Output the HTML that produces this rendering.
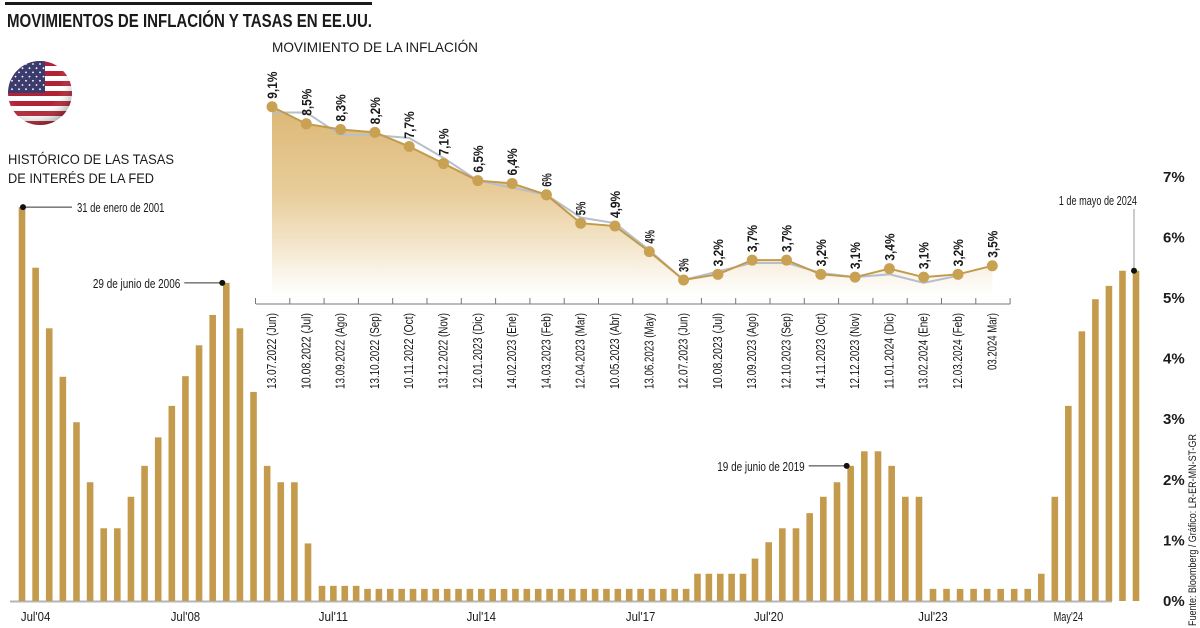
<!DOCTYPE html>
<html><head><meta charset="utf-8"><style>
html,body{margin:0;padding:0;background:#fff;}
svg{display:block;font-family:"Liberation Sans Narrow","Liberation Sans",sans-serif;}
</style></head><body>
<svg id="chart" width="1200" height="628" viewBox="0 0 1200 628" xmlns="http://www.w3.org/2000/svg">
<defs>
<linearGradient id="areaGrad" x1="0" y1="0" x2="0" y2="1">
<stop offset="0" stop-color="#dcb877"/><stop offset="0.45" stop-color="#e8cc98"/><stop offset="1" stop-color="#ffffff"/>
</linearGradient>
<clipPath id="flagClip"><circle cx="40" cy="93" r="32"/></clipPath>
<radialGradient id="flagShade" cx="0.4" cy="0.35" r="0.7"><stop offset="0.6" stop-color="#fff" stop-opacity="0"/><stop offset="1" stop-color="#000" stop-opacity="0.35"/></radialGradient>
</defs>
<rect x="5" y="2" width="367" height="3" fill="#1a1a1a"/>
<text x="7" y="27" font-size="18" font-weight="bold" fill="#1a1a1a" textLength="365" lengthAdjust="spacingAndGlyphs">MOVIMIENTOS DE INFLACIÓN Y TASAS EN EE.UU.</text>
<text x="272" y="52" font-size="14" fill="#1a1a1a" textLength="206" lengthAdjust="spacingAndGlyphs">MOVIMIENTO DE LA INFLACIÓN</text>
<text x="8" y="164" font-size="14" fill="#1a1a1a" textLength="166" lengthAdjust="spacingAndGlyphs">HISTÓRICO DE LAS TASAS</text>
<text x="8" y="183" font-size="14" fill="#1a1a1a" textLength="146" lengthAdjust="spacingAndGlyphs">DE INTERÉS DE LA FED</text>
<g clip-path="url(#flagClip)">
<rect x="8" y="61" width="64" height="64" fill="#fff"/>
<rect x="8" y="61" width="64" height="5" fill="#b22234"/><rect x="8" y="71" width="64" height="5" fill="#b22234"/>
<rect x="8" y="81" width="64" height="5" fill="#b22234"/><rect x="8" y="91" width="64" height="5" fill="#b22234"/>
<rect x="8" y="101" width="64" height="5" fill="#b22234"/><rect x="8" y="111" width="64" height="5" fill="#b22234"/>
<rect x="8" y="121" width="64" height="5" fill="#b22234"/>
<rect x="8" y="61" width="37" height="32" fill="#3c3b6e"/>
<circle cx="40" cy="93" r="32" fill="url(#flagShade)"/>
</g>
<g id="stars"></g>
<g id="inset"></g>
<g id="bars"></g>
<text transform="translate(1196,626) rotate(-90)" font-size="11" fill="#1a1a1a" textLength="192" lengthAdjust="spacingAndGlyphs">Fuente: Bloomberg / Gráfico: LR-ER-MN-ST-GR</text>
</svg>
<script>
// ---------- Inflation inset data ----------
const inflDates = ["13.07.2022 (Jun)","10.08.2022 (Jul)","13.09.2022 (Ago)","13.10.2022 (Sep)","10.11.2022 (Oct)","13.12.2022 (Nov)","12.01.2023 (Dic)","14.02.2023 (Ene)","14.03.2023 (Feb)","12.04.2023 (Mar)","10.05.2023 (Abr)","13.06.2023 (May)","12.07.2023 (Jun)","10.08.2023 (Jul)","13.09.2023 (Ago)","12.10.2023 (Sep)","14.11.2023 (Oct)","12.12.2023 (Nov)","11.01.2024 (Dic)","13.02.2024 (Ene)","12.03.2024 (Feb)","03.2024 Mar)"];
const inflValues = [9.1,8.5,8.3,8.2,7.7,7.1,6.5,6.4,6,5,4.9,4,3,3.2,3.7,3.7,3.2,3.1,3.4,3.1,3.2,3.5];
const inflLabels = ["9,1%","8,5%","8,3%","8,2%","7,7%","7,1%","6,5%","6,4%","6%","5%","4,9%","4%","3%","3,2%","3,7%","3,7%","3,2%","3,1%","3,4%","3,1%","3,2%","3,5%"];
const inflSecondary = [8.9,8.9,8.1,8.1,8.0,7.3,6.5,6.25,6.0,5.2,5.0,4.05,3.0,3.3,3.6,3.6,3.25,3.1,3.2,2.9,3.15];

// ---------- Fed rate bars data ----------
const rateValues = [6.5,5.5,4.5,3.7,2.95,1.96,1.2,1.2,1.72,2.23,2.7,3.22,3.71,4.22,4.72,5.25,4.5,3.45,2.23,1.96,1.96,0.95,
0.25,0.25,0.25,0.25,0.2,0.2,0.2,0.2,0.2,0.2,0.2,0.2,0.2,0.2,0.2,0.2,0.2,0.2,0.2,0.2,0.2,0.2,0.2,0.2,0.2,0.2,0.2,0.2,0.2,0.2,0.2,0.2,0.2,0.45,0.45,0.45,0.45,0.45,
0.7,0.97,1.2,1.2,1.45,1.72,1.96,2.23,2.47,2.47,2.23,1.72,1.72,
0.2,0.2,0.2,0.2,0.2,0.2,0.2,0.2,0.45,1.72,3.22,4.45,4.98,5.2,5.45,5.45];
const xTickLabels = ["Jul'04","Jul'08","Jul'11","Jul'14","Jul'17","Jul'20","Jul'23","May'24"];
const xTickIndex = [1,12,23,36,50,61,73,83];
const yTickValues = [0,1,2,3,4,5,6,7];
const yTickLabels = ["0%","1%","2%","3%","4%","5%","6%","7%"];
const annotTexts = ["31 de enero de 2001","29 de junio de 2006","19 de junio de 2019","1 de mayo de 2024"];
const annotIndex = [0,15,67,88];

const NS = "http://www.w3.org/2000/svg";
function mk(tag, attrs, parent, txt){
  const e = document.createElementNS(NS, tag);
  for (const k in attrs) e.setAttribute(k, attrs[k]);
  if (txt !== undefined) e.textContent = txt;
  parent.appendChild(e);
  return e;
}

// stars
const stars = document.getElementById('stars');
for (let r=0;r<7;r++){ for(let c=0;c<5;c++){
  const s = mk('circle',{cx:12+c*7+(r%2)*3.5, cy:64+r*4.2, r:0.9, fill:'#fff'}, stars);
  
  
}}

// ---------- Inset scales ----------
const ix = i => 272 + i*34.3;
const iy = v => 280 - (v-3)*28.4;
const inset = document.getElementById('inset');
const areaBottom = 296;
let dArea = "M"+ix(0)+","+areaBottom;
inflValues.forEach((v,i)=>{ dArea += " L"+ix(i)+","+iy(v); });
dArea += " L"+ix(inflValues.length-1)+","+areaBottom+" Z";
const area = mk('path',{d:dArea, fill:'url(#areaGrad)'}, inset);


let dSec = "";
inflSecondary.forEach((v,i)=>{ dSec += (i?" L":"M")+ix(i)+","+iy(v); });
const sec = mk('path',{d:dSec, fill:'none', stroke:'#b7bfcc', 'stroke-width':2}, inset);


let dLine = "";
inflValues.forEach((v,i)=>{ dLine += (i?" L":"M")+ix(i)+","+iy(v); });
const line = mk('path',{d:dLine, fill:'none', stroke:'#c29a4c', 'stroke-width':2}, inset);


// axis
const ax = mk('line',{x1:ix(0)-16, x2:ix(inflValues.length-1)+18, y1:304, y2:304, stroke:'#777', 'stroke-width':1}, inset);


for (let i=0;i<=inflValues.length;i++){
  const t = mk('line',{x1:ix(i)-16.5, x2:ix(i)-16.5, y1:298, y2:304, stroke:'#777', 'stroke-width':1}, inset);
  
  
}
inflValues.forEach((v,i)=>{
  const c = mk('circle',{cx:ix(i), cy:iy(v), r:5.5, fill:'#c9a152'}, inset);
  
  
  const lx = ix(i)+5, ly = iy(v)-8;
  const lab = mk('text',{transform:"translate("+lx+","+ly+") rotate(-90)", 'font-size':14, 'font-weight':'bold', fill:'#1a1a1a', textLength: inflLabels[i].length*6.8, lengthAdjust:'spacingAndGlyphs'}, inset, inflLabels[i]);
  
  
  const dx = ix(i)+4, dy = 313 + inflDates[i].length*4.75;
  const dl = mk('text',{transform:"translate("+dx+","+dy+") rotate(-90)", 'font-size':13, fill:'#1a1a1a', textLength: inflDates[i].length*4.75, lengthAdjust:'spacingAndGlyphs'}, inset, inflDates[i]);
  
  
});

// ---------- Bar scales ----------
function bx(i){
  if (i<=21) return 22 + i*(286/21);
  if (i<=59) return 322 + (i-22)*(421/37);
  if (i<=72) return 755 + (i-60)*(164/12);
  return 933 + (i-73)*(203/15);
}
const by = v => 601 - v*60.6;
const bars = document.getElementById('bars');
const base = mk('line',{x1:10, x2:1112, y1:601.5, y2:601.5, stroke:'#b5b5b5', 'stroke-width':2}, bars);


rateValues.forEach((v,i)=>{
  const r = mk('rect',{x:bx(i)-3.3, y:by(v), width:6.6, height:601-by(v), fill:'#c49b4c'}, bars);
  
  
});
xTickLabels.forEach((t,k)=>{
  const e = mk('text',{x:bx(xTickIndex[k]), y:621, 'font-size':13, fill:'#1a1a1a', 'text-anchor':'middle', textLength:t.length*4.9, lengthAdjust:'spacingAndGlyphs'}, bars, t);
  
  
});
yTickValues.forEach((v,k)=>{
  const e = mk('text',{x:1163, y:by(v)+5, 'font-size':15, 'font-weight':'bold', fill:'#1a1a1a', 'font-family':'Liberation Sans, sans-serif'}, bars, yTickLabels[k]);
  
  
});
// annotations
function annot(k, mode){
  const i = annotIndex[k], x = bx(i), y = by(rateValues[i]);
  const g = mk('g',{}, bars);
  
  
  const len = annotTexts[k].length*4.6;
  if (mode==='right'){
    mk('line',{x1:x, x2:x+50, y1:y, y2:y, stroke:'#333', 'stroke-width':1}, g);
    mk('text',{x:x+55, y:y+5, 'font-size':13, fill:'#1a1a1a', textLength:len, lengthAdjust:'spacingAndGlyphs'}, g, annotTexts[k]);
  } else if (mode==='left'){
    mk('line',{x1:x-4, x2:x-42, y1:y, y2:y, stroke:'#333', 'stroke-width':1}, g);
    mk('text',{x:x-46, y:y+5, 'font-size':13, fill:'#1a1a1a', 'text-anchor':'end', textLength:len, lengthAdjust:'spacingAndGlyphs'}, g, annotTexts[k]);
  } else {
    mk('line',{x1:x-2, x2:x-2, y1:y, y2:209, stroke:'#999', 'stroke-width':1}, g);
    mk('text',{x:x+1, y:205, 'font-size':13, fill:'#1a1a1a', 'text-anchor':'end', textLength:len, lengthAdjust:'spacingAndGlyphs'}, g, annotTexts[k]);
  }
  mk('circle',{cx: mode==='up'? x-2 : (mode==='left'? x-4 : x+1), cy:y, r:3, fill:'#111'}, g);
}
annot(0,'right'); annot(1,'left'); annot(2,'left'); annot(3,'up');
</script>
</body></html>
